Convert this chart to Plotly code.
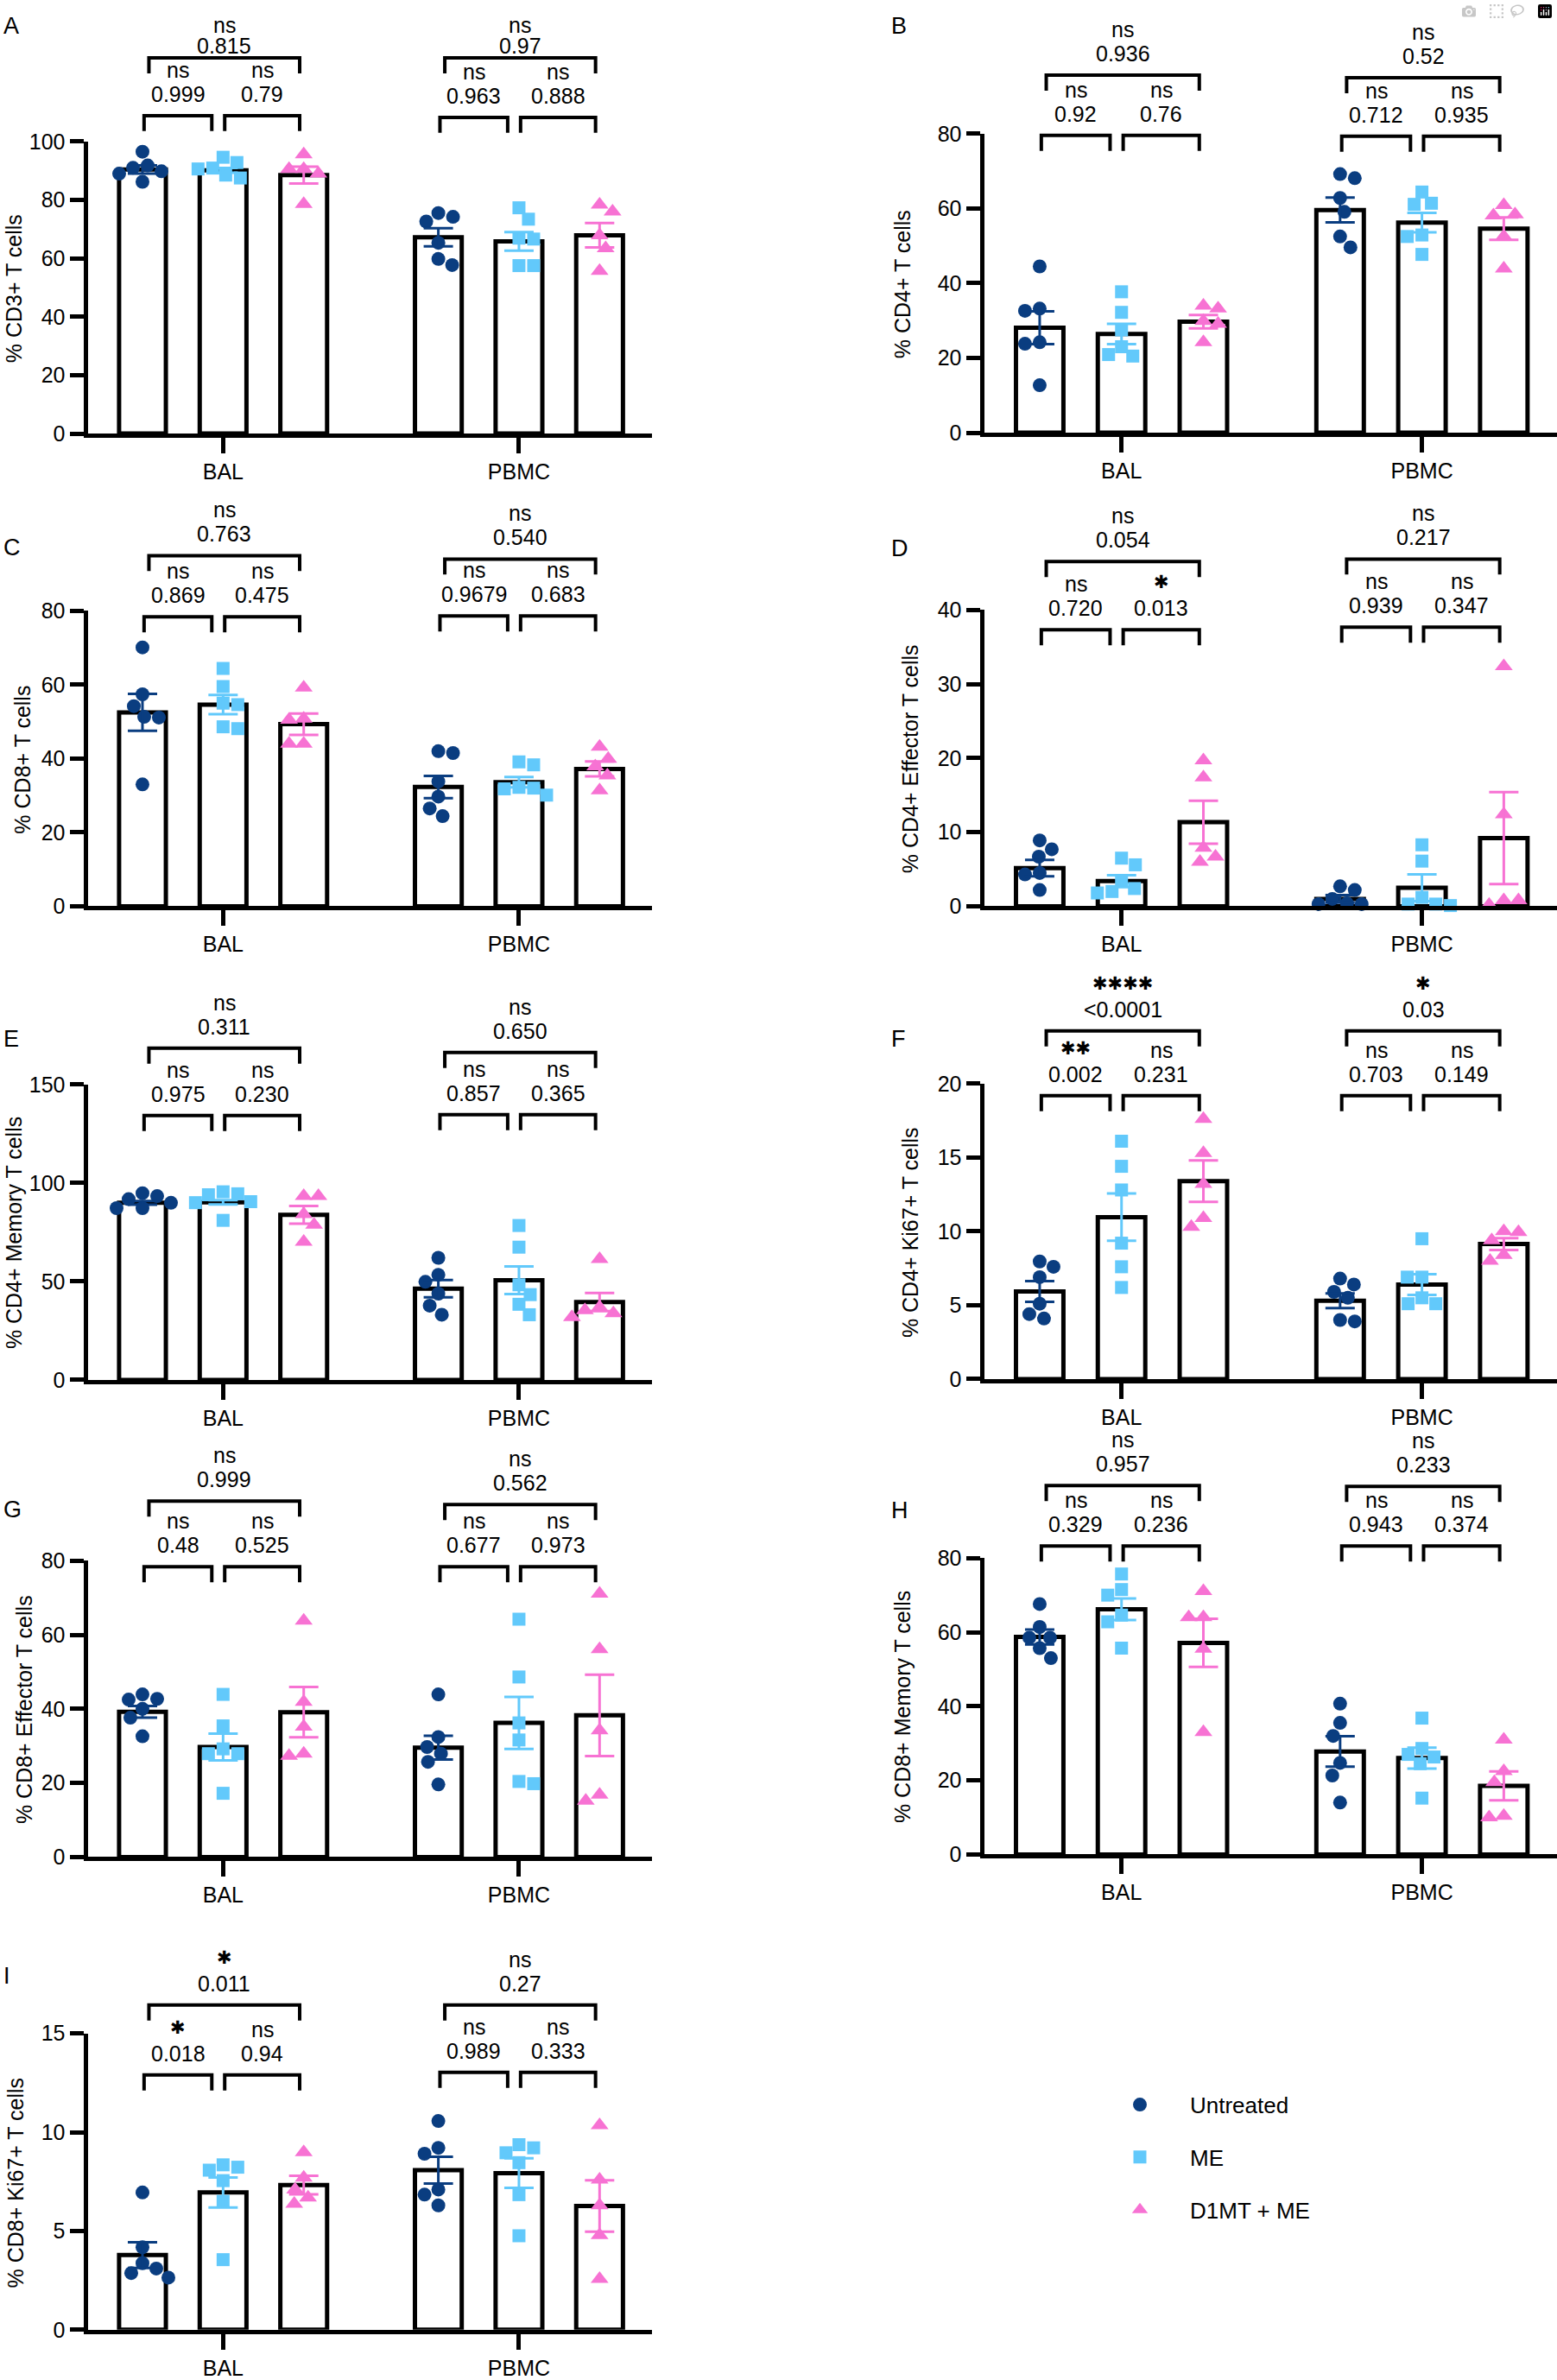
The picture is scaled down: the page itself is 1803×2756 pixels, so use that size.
import plotly.graph_objects as go

W, H = 1803, 2756
# vertical calibration of the photographed page (page_y = V0 + VS * figure_y)
V0, VS = 14.0, 0.989
FONT = "Liberation Sans, Arial, Helvetica, sans-serif"
STAR_FONT = "DejaVu Sans, sans-serif"

# ---------------- data ----------------
groups = ["BAL", "PBMC"]
treatments = ["Untreated", "ME", "D1MT + ME"]
panel_ids = ["A", "B", "C", "D", "E", "F", "G", "H", "I"]
ytitles = ["% CD3+ T cells", "% CD4+ T cells", "% CD8+ T cells",
           "% CD4+ Effector T cells", "% CD4+ Memory T cells", "% CD4+ Ki67+ T cells",
           "% CD8+ Effector T cells", "% CD8+ Memory T cells", "% CD8+ Ki67+ T cells"]
ymax = [100, 80, 80, 40, 150, 20, 80, 80, 15]
ystep = [20, 20, 20, 10, 50, 5, 20, 20, 5]

# group order: BAL-Untreated, BAL-ME, BAL-D1MT+ME, PBMC-Untreated, PBMC-ME, PBMC-D1MT+ME
A_mean = [90.4, 90.1, 88.5, 67.2, 65.8, 67.9]
A_sem = [1.4, 0.8, 2.9, 3.1, 3.2, 4.2]
A_pts = [[96.5, 91.8, 91.0, 89.8, 89.0, 86.2], [94.6, 92.8, 90.9, 90.6, 88.5, 87.5],
         [95.6, 90.6, 90.6, 89.0, 78.6], [75.5, 74.2, 72.6, 65.3, 59.8, 57.7],
         [77.3, 73.4, 66.9, 66.6, 57.5, 57.5], [78.4, 76.0, 67.9, 63.4, 55.7]]

B_mean = [28.1, 26.4, 29.7, 59.6, 56.2, 54.6]
B_sem = [4.4, 2.7, 1.8, 3.3, 2.6, 3.0]
B_pts = [[44.5, 33.2, 32.6, 24.2, 23.8, 12.7], [37.7, 32.2, 27.5, 23.0, 20.9, 20.5],
         [34.0, 33.2, 29.9, 29.1, 24.2], [69.2, 68.1, 62.8, 59.1, 52.5, 49.6],
         [64.4, 61.4, 61.1, 52.9, 52.5, 47.7], [60.9, 58.4, 58.1, 52.5, 43.9]]

C_mean = [52.5, 54.6, 49.3, 32.3, 33.6, 37.2]
C_sem = [5.0, 2.6, 2.9, 3.0, 1.4, 2.0]
C_pts = [[70.1, 57.4, 54.2, 51.3, 51.1, 33.0], [64.4, 59.5, 55.0, 54.6, 48.6, 48.1],
         [59.2, 50.8, 50.5, 44.0, 44.0], [42.0, 41.5, 33.8, 29.7, 26.5, 24.4],
         [39.1, 38.3, 32.2, 32.0, 31.8, 30.1], [43.2, 39.9, 37.9, 35.4, 31.4]]

D_mean = [5.15, 3.4, 11.35, 1.0, 2.5, 9.2]
D_sem = [1.1, 0.8, 2.9, 0.5, 1.8, 6.2]
D_pts = [[8.9, 7.7, 6.7, 4.5, 4.3, 2.2], [6.5, 5.6, 3.5, 2.4, 2.0, 1.8],
         [19.7, 17.4, 7.9, 6.7, 6.0], [2.7, 2.2, 1.0, 0.4, 0.3, 0.3],
         [8.3, 6.1, 1.2, 0.3, 0.3, 0.1], [32.4, 12.4, 0.8, 0.8, 0.2]]

E_mean = [89.9, 90.2, 83.8, 46.3, 50.6, 39.5]
E_sem = [0.9, 1.1, 4.5, 4.4, 7.0, 4.6]
E_pts = [[94.8, 93.3, 91.8, 89.9, 87.2, 87.2], [95.5, 94.5, 94.0, 90.5, 90.0, 81.0],
         [93.3, 93.3, 84.1, 78.8, 70.1], [62.0, 53.4, 49.8, 43.8, 37.7, 33.1],
         [78.4, 67.4, 48.3, 43.3, 38.4, 33.1], [61.3, 36.9, 35.4, 33.8, 31.9]]

F_mean = [5.93, 10.96, 13.4, 5.3, 6.4, 9.14]
F_sem = [0.7, 1.6, 1.4, 0.5, 0.7, 0.4]
F_pts = [[7.96, 7.6, 6.9, 5.1, 4.4, 4.1], [16.1, 14.4, 12.8, 9.2, 7.6, 6.2],
         [17.6, 15.3, 13.2, 10.9, 10.3], [6.8, 6.4, 5.9, 5.5, 4.0, 3.9],
         [9.5, 6.9, 6.9, 5.5, 5.1, 5.1], [10.0, 9.95, 9.4, 8.4, 8.0]]

G_mean = [39.2, 29.7, 39.1, 29.5, 36.2, 38.25]
G_sem = [1.6, 3.6, 6.8, 3.2, 7.0, 11.0]
G_pts = [[43.9, 42.7, 42.5, 40.0, 37.6, 32.6], [43.9, 35.4, 29.2, 27.9, 27.9, 17.2],
         [63.8, 41.9, 35.2, 27.9, 27.3], [43.9, 32.4, 29.7, 27.9, 25.7, 19.6],
         [64.2, 48.6, 36.2, 31.6, 20.4, 19.8], [71.1, 56.1, 34.2, 16.8, 15.2]]

H_mean = [58.7, 66.2, 57.1, 27.8, 26.0, 18.5]
H_sem = [2.0, 2.9, 6.5, 4.1, 2.8, 3.9]
H_pts = [[67.6, 61.4, 58.5, 58.5, 55.7, 53.0], [75.7, 71.5, 70.0, 64.6, 62.8, 55.7],
         [71.1, 64.0, 64.0, 55.5, 33.0], [40.7, 35.5, 32.0, 24.7, 21.3, 14.0],
         [36.8, 28.6, 27.0, 26.3, 24.5, 15.2], [31.0, 22.5, 19.5, 10.4, 10.0]]

I_mean = [3.78, 6.95, 7.33, 8.08, 7.93, 6.27]
I_sem = [0.65, 0.76, 0.47, 0.68, 0.75, 1.3]
I_pts = [[6.95, 4.18, 3.37, 3.1, 2.87, 2.64], [8.35, 8.23, 8.08, 7.55, 6.5, 3.55],
         [8.99, 7.7, 7.1, 6.69, 6.37], [10.57, 9.21, 8.91, 7.1, 6.84, 6.3],
         [9.37, 9.21, 8.96, 8.46, 6.84, 4.76], [10.35, 7.6, 6.3, 4.79, 2.57]]

# comparisons: BAL (U vs ME, ME vs D1MT, U vs D1MT), PBMC (same)
A_sig = ["ns", "ns", "ns", "ns", "ns", "ns"]
A_p = ["0.999", "0.79", "0.815", "0.963", "0.888", "0.97"]
B_sig = ["ns", "ns", "ns", "ns", "ns", "ns"]
B_p = ["0.92", "0.76", "0.936", "0.712", "0.935", "0.52"]
C_sig = ["ns", "ns", "ns", "ns", "ns", "ns"]
C_p = ["0.869", "0.475", "0.763", "0.9679", "0.683", "0.540"]
D_sig = ["ns", "*", "ns", "ns", "ns", "ns"]
D_p = ["0.720", "0.013", "0.054", "0.939", "0.347", "0.217"]
E_sig = ["ns", "ns", "ns", "ns", "ns", "ns"]
E_p = ["0.975", "0.230", "0.311", "0.857", "0.365", "0.650"]
F_sig = ["**", "ns", "****", "ns", "ns", "*"]
F_p = ["0.002", "0.231", "<0.0001", "0.703", "0.149", "0.03"]
G_sig = ["ns", "ns", "ns", "ns", "ns", "ns"]
G_p = ["0.48", "0.525", "0.999", "0.677", "0.973", "0.562"]
H_sig = ["ns", "ns", "ns", "ns", "ns", "ns"]
H_p = ["0.329", "0.236", "0.957", "0.943", "0.374", "0.233"]
I_sig = ["*", "ns", "*", "ns", "ns", "ns"]
I_p = ["0.018", "0.94", "0.011", "0.989", "0.333", "0.27"]

means = [A_mean, B_mean, C_mean, D_mean, E_mean, F_mean, G_mean, H_mean, I_mean]
sems = [A_sem, B_sem, C_sem, D_sem, E_sem, F_sem, G_sem, H_sem, I_sem]
points = [A_pts, B_pts, C_pts, D_pts, E_pts, F_pts, G_pts, H_pts, I_pts]
sigs = [A_sig, B_sig, C_sig, D_sig, E_sig, F_sig, G_sig, H_sig, I_sig]
pvals = [A_p, B_p, C_p, D_p, E_p, F_p, G_p, H_p, I_p]

# ---------------- layout / style ----------------
colors = ["#0a3d80", "#62c9fb", "#f772d3"]
symbols = ["circle", "square", "triangle-up"]
msizes = [16, 15, 18]

bar_pos = [0, 1, 2, 3.67, 4.67, 5.67]
group_start = [0, 3.67]
xrange_ = [-0.68, 6.32]
col_px = [(99, 755), (1137, 1803)]          # page pixels
panel_col = [0, 1, 0, 1, 0, 1, 0, 1, 0]
panel_top = [164, 155, 708, 707, 1257, 1256, 1809, 1806, 2357]
panel_bot = [505, 504, 1053, 1053, 1602, 1601, 2155, 2152, 2703]
# small BAL, small PBMC, big BAL, big PBMC bracket heights (page px)
bracket_px = [[134, 136, 67, 67], [157, 158, 87, 90], [715, 714, 644, 648],
              [730, 727, 651, 648], [1293, 1292, 1215, 1220], [1270, 1270, 1195, 1195],
              [1816, 1816, 1740, 1744], [1792, 1792, 1722, 1723], [2405, 2402, 2324, 2324]]
bracket_span = [(0.02, 0.86), (1.02, 1.95), (0.08, 1.95)]
title_px = [16, 1045, 26, 1054, 16, 1054, 28, 1045, 18]
letter_px = [(2, 14), (1030, 14), (2, 635), (1030, 636), (2, 1204), (1030, 1204),
             (2, 1750), (1030, 1751), (2, 2290)]
TOP_TEXT_MIN = V0 + VS * 15     # highest page y a text centre may take


def fx(px):
    return px / W


def fig_y(py, minimum=None):
    v = (py - V0) / VS
    if minimum is not None:
        v = max(v, minimum)
    return v


def fy(py, minimum=None):
    return 1 - fig_y(py, minimum) / H


def swarm(vals, ppu, d=17.0, step=1.0):
    placed = []
    offs = [0.0] * len(vals)
    order = sorted(range(len(vals)), key=lambda i: -vals[i])
    for i in order:
        y = vals[i] * ppu
        found = None
        k = 0
        while found is None:
            cands = [0.0] if k == 0 else [-k * step, k * step]
            if k > 0 and len(placed) % 2 == 1:
                cands = cands[::-1]
            for x in cands:
                if all((x - a) ** 2 + (y - b) ** 2 >= d * d for a, b in placed):
                    found = x
                    break
            k += 1
        placed.append((found, y))
        offs[i] = found
    return offs


fig = go.Figure()
layout = dict(width=W, height=H, margin=dict(l=0, r=0, t=0, b=0),
              paper_bgcolor="white", plot_bgcolor="white", showlegend=True,
              font=dict(family=FONT, size=25, color="black"))
shapes = []
annotations = []

for p in range(9):
    n = p + 1
    xa = "x" if n == 1 else f"x{n}"
    ya = "y" if n == 1 else f"y{n}"
    x0px, x1px = col_px[panel_col[p]]
    x0px += 2.5
    xppu = (x1px - x0px) / (xrange_[1] - xrange_[0])
    yppu = (fig_y(panel_bot[p]) - fig_y(panel_top[p])) / ymax[p]

    layout[f"xaxis{'' if n == 1 else n}"] = dict(
        domain=[fx(x0px), fx(x1px)], range=xrange_, anchor=ya,
        showline=True, linewidth=5, linecolor="black", ticks="outside", ticklen=18,
        tickwidth=5, tickcolor="black", tickvals=[1, 4.67], ticktext=groups,
        tickfont=dict(size=25), showgrid=False, zeroline=False, fixedrange=True)
    layout[f"yaxis{'' if n == 1 else n}"] = dict(
        domain=[fy(panel_bot[p] - 2.5), fy(panel_top[p])], range=[0, ymax[p]], anchor=xa,
        showline=True, linewidth=5, linecolor="black", ticks="outside", ticklen=16,
        tickwidth=5, tickcolor="black",
        tickvals=list(range(0, ymax[p] + 1, ystep[p])),
        tickfont=dict(size=25), showgrid=False, zeroline=False, fixedrange=True)

    # bars
    fig.add_trace(go.Bar(x=bar_pos, y=means[p], width=0.58, xaxis=xa, yaxis=ya,
                         marker=dict(color="white", line=dict(color="black", width=5)),
                         showlegend=False, hoverinfo="skip"))
    # points
    for t in range(3):
        xs, ys = [], []
        for g in range(2):
            gi = g * 3 + t
            vals = points[p][gi]
            offs = swarm(vals, yppu)
            xs += [bar_pos[gi] + o / xppu for o in offs]
            ys += vals
        fig.add_trace(go.Scatter(
            x=xs, y=ys, mode="markers", xaxis=xa, yaxis=ya, cliponaxis=False,
            marker=dict(color=colors[t], symbol=symbols[t], size=msizes[t], line=dict(width=0)),
            name=treatments[t], legendgroup=treatments[t], showlegend=(p == 0),
            hoverinfo="skip"))
    # SEM
    for t in range(3):
        idx = [t, t + 3]
        fig.add_trace(go.Scatter(
            x=[bar_pos[i] for i in idx], y=[means[p][i] for i in idx], mode="markers",
            xaxis=xa, yaxis=ya, cliponaxis=False,
            marker=dict(color="rgba(0,0,0,0)", size=1),
            error_y=dict(type="data", array=[sems[p][i] for i in idx], visible=True,
                         color=colors[t], thickness=3, width=17),
            showlegend=False, hoverinfo="skip"))

    # brackets and labels
    for g in range(2):
        for c in range(3):
            hpx = bracket_px[p][g] if c < 2 else bracket_px[p][2 + g]
            xa0 = group_start[g] + bracket_span[c][0]
            xa1 = group_start[g] + bracket_span[c][1]
            ytop = fy(hpx)
            yleg = fy(hpx + 18)
            shapes.append(dict(type="path", xref=xa, yref="paper",
                               path=f"M {xa0},{yleg} L {xa0},{ytop} L {xa1},{ytop} L {xa1},{yleg}",
                               line=dict(color="black", width=4)))
            k = g * 3 + c
            xc = (xa0 + xa1) / 2
            s = sigs[p][k]
            sig_y = max(hpx - 53, TOP_TEXT_MIN)
            p_y = max(hpx - 25, sig_y + 24)
            annotations.append(dict(x=xc, y=fy(p_y), xref=xa, yref="paper",
                                    text=pvals[p][k], showarrow=False,
                                    font=dict(size=25, family=FONT), xanchor="center",
                                    yanchor="middle"))
            if s == "ns":
                annotations.append(dict(x=xc, y=fy(sig_y), xref=xa, yref="paper",
                                        text=s, showarrow=False,
                                        font=dict(size=25, family=FONT),
                                        xanchor="center", yanchor="middle"))
            else:
                annotations.append(dict(x=xc, y=fy(sig_y - 2), xref=xa, yref="paper",
                                        text="\u2731" * len(s), showarrow=False,
                                        font=dict(size=21, family=STAR_FONT),
                                        xanchor="center", yanchor="middle"))
    # y title
    annotations.append(dict(x=fx(title_px[p]), y=(fy(panel_top[p]) + fy(panel_bot[p])) / 2,
                            xref="paper", yref="paper",
                            text=ytitles[p], textangle=-90,
                            showarrow=False, font=dict(size=25, family=FONT),
                            xanchor="center", yanchor="middle"))
    # panel letter
    lx, ly = letter_px[p]
    annotations.append(dict(x=fx(lx), y=fy(ly, 16), xref="paper", yref="paper",
                            text=panel_ids[p], showarrow=False,
                            font=dict(size=27, family=FONT),
                            xanchor="left", yanchor="middle"))

layout["shapes"] = shapes
layout["annotations"] = annotations
layout["legend"] = dict(x=fx(1262), y=fy(2416), xanchor="left", yanchor="top",
                        font=dict(size=26, family=FONT), itemwidth=106,
                        tracegroupgap=24, traceorder="grouped",
                        bgcolor="rgba(0,0,0,0)", itemsizing="trace")
fig.update_layout(**layout)
fig.write_html("out.html", post_script="document.body.style.margin='0';")
